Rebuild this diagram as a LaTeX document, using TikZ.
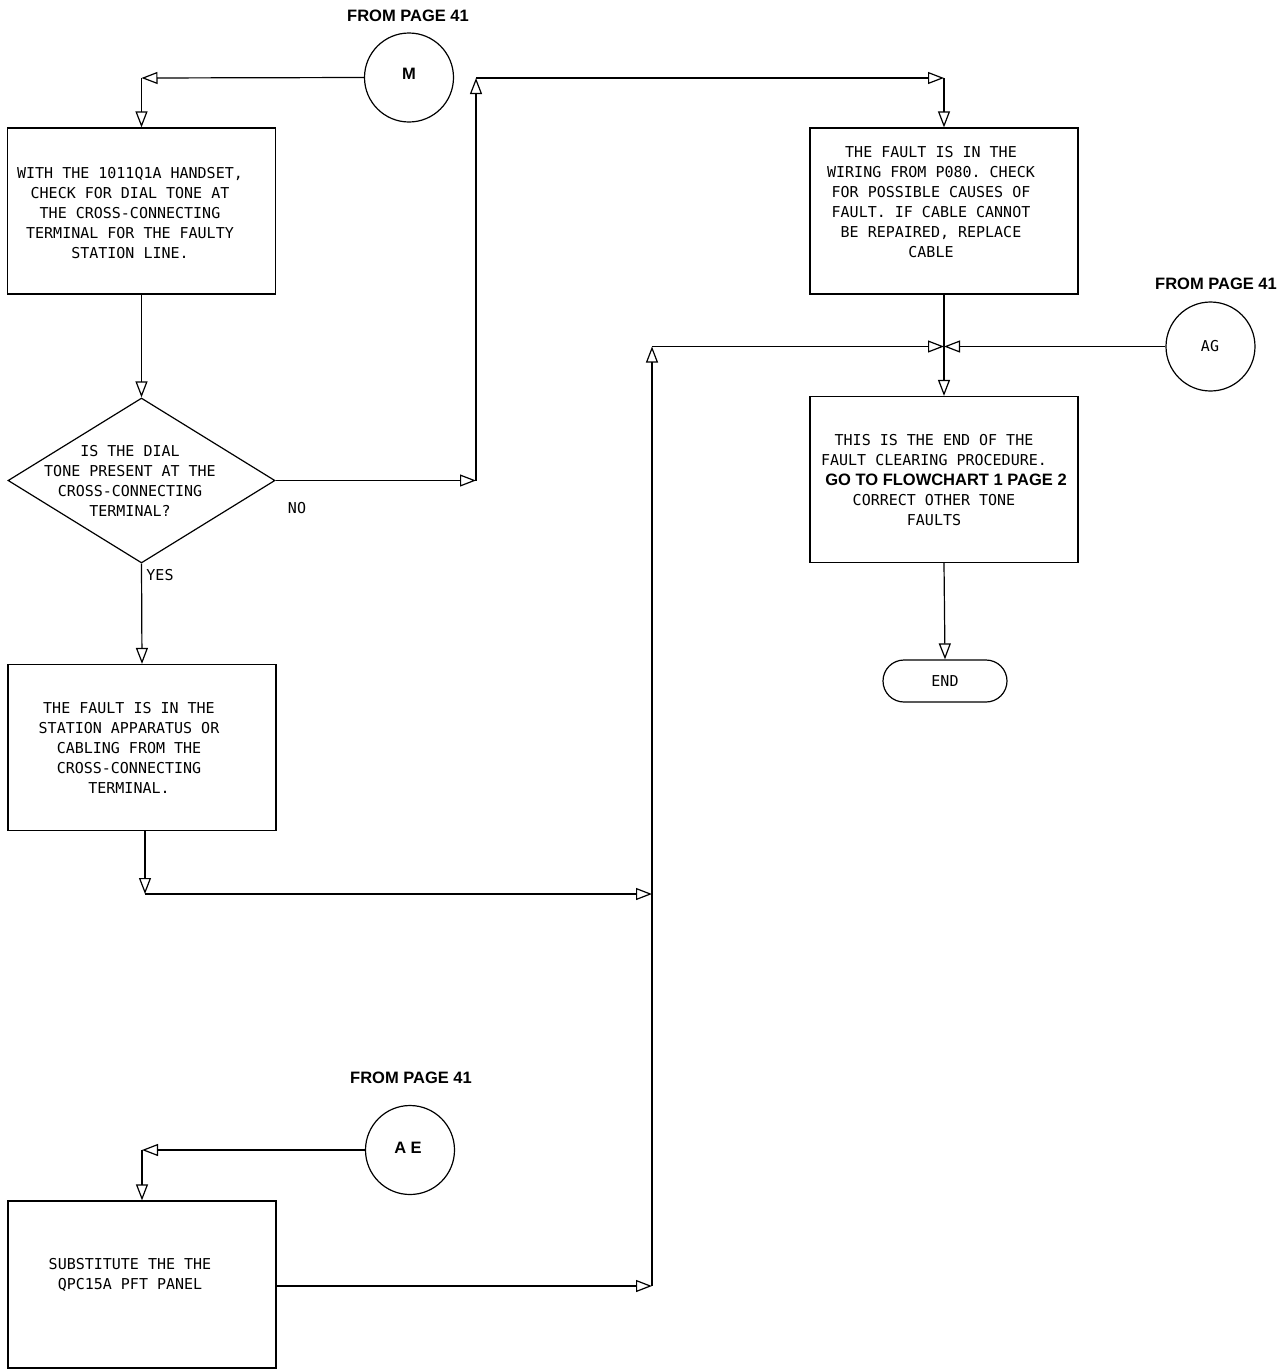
\documentclass[tikz,border=0pt]{standalone}
\usepackage{fontspec}
\setmainfont{Liberation Sans}
\setmonofont{DejaVu Sans Mono}
\usetikzlibrary{arrows.meta,shapes.geometric}
\begin{document}
\begin{tikzpicture}[x=1pt,y=-1pt, line width=1.2pt,
  box/.style={draw, rectangle, minimum width=268pt, minimum height=166pt, inner sep=0pt},
  txt/.style={align=center, inner sep=0pt, font=\ttfamily\fontsize{15}{20}\selectfont},
  conn/.style={circle, draw, minimum size=89pt, inner sep=0pt},
  arr/.style={-{Triangle[open,length=16pt,width=12pt]}},
  head/.style={inner sep=0pt, font=\bfseries\fontsize{16.5}{18}\selectfont}]
\useasboundingbox (0,0) rectangle (1287,1369);

% headings
\node[head] (h1) at (408,16) {FROM PAGE 41};
\node[head] (h2) at (1216,284) {FROM PAGE 41};
\node[head] (h3) at (411,1078) {FROM PAGE 41};

% connectors (circles)
\node[conn] (M) at (409,77.5) {};
\node[head] (Mt) at (409,74) {M};
\node[conn] (AG) at (1210.5,346.5) {};
\node[txt] (AGt) at (1210,346) {AG};
\node[conn] (AE) at (410,1150) {};
\node[head] (AEt) at (408,1148) {A E};

% boxes
\node[box] (b1) at (141.5,211) {};
\node[txt] (b1t) at (130,213) {WITH THE 1011Q1A HANDSET,\\CHECK FOR DIAL TONE AT\\THE CROSS-CONNECTING\\TERMINAL FOR THE FAULTY\\STATION LINE.};

\node[draw, diamond, minimum width=267pt, minimum height=165pt, inner sep=0pt] (d) at (141.5,480.5) {};
\node[txt] (dt) at (130,481) {IS THE DIAL\\TONE PRESENT AT THE\\CROSS-CONNECTING\\TERMINAL?};

\node[box] (b3) at (142,747.5) {};
\node[txt] (b3t) at (129,748) {THE FAULT IS IN THE\\STATION APPARATUS OR\\CABLING FROM THE\\CROSS-CONNECTING\\TERMINAL.};

\node[box] (b2) at (944,211) {};
\node[txt] (b2t) at (931,202) {THE FAULT IS IN THE\\WIRING FROM P080. CHECK\\FOR POSSIBLE CAUSES OF\\FAULT. IF CABLE CANNOT\\BE REPAIRED, REPLACE\\CABLE};

\node[box] (b4) at (944,479.5) {};
\node[txt] (b4t) at (934,480) {THIS IS THE END OF THE\\FAULT CLEARING PROCEDURE.\\\hspace*{24pt}{\rmfamily\bfseries\fontsize{16.5}{20}\selectfont GO TO FLOWCHART 1 PAGE 2}\\CORRECT OTHER TONE\\FAULTS};

\node[draw, rectangle, rounded corners=21pt, minimum width=124pt, minimum height=42pt, inner sep=0pt] (end) at (945,681) {};
\node[txt] (endt) at (945,681) {END};

\node[box, minimum height=167pt] (b5) at (142,1284.5) {};
\node[txt] (b5t) at (130,1275) {SUBSTITUTE THE THE\\QPC15A PFT PANEL};

% labels
\node[txt] (no) at (297,508) {NO};
\node[txt] (yes) at (160,575) {YES};

% junction coordinates
\coordinate (c1) at (141.5,78);
\coordinate (n1) at (476,480.5);
\coordinate (n2) at (476,78);
\coordinate (n3) at (944,78);
\coordinate (c3) at (145,894);
\coordinate (j1) at (652,1286);
\coordinate (j2) at (652,894);
\coordinate (j3) at (652,346.5);
\coordinate (k) at (944,346.5);
\coordinate (c5) at (142,1150);

% connectors
\draw[arr] (M.west) -- (c1);
\draw[arr] (c1) -- (b1.north);
\draw[arr] (b1.south) -- (d.north);
\draw[arr] (d.south) -- (b3.north);
\draw[arr] (d.east) -- (n1);
\draw[arr] (n1) -- (n2);
\draw[arr] (n2) -- (n3);
\draw[arr] (n3) -- (b2.north);
\draw[arr] (b3.south -| c3) -- (c3);
\draw[arr] (c3) -- (j2);
\draw[arr] (AE.west) -- (c5);
\draw[arr] (c5) -- (b5.north);
\draw[arr] (b5.east |- j1) -- (j1);
\draw[arr] (j1) -- (j3);
\draw[arr] (j3) -- (k);
\draw[arr] (AG.west) -- (k);
\draw (b2.south) -- (k);
\draw[arr] (k) -- (b4.north);
\draw[arr] (b4.south) -- (end.north);
\end{tikzpicture}
\end{document}
